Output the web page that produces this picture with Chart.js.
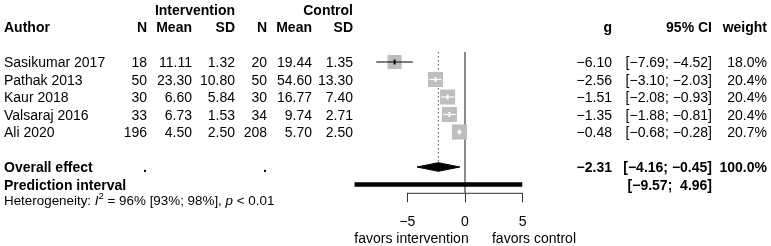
<!DOCTYPE html>
<html><head><meta charset="utf-8">
<script src="https://cdn.jsdelivr.net/npm/chart.js@4.4.1/dist/chart.umd.min.js"></script>
<style>
html,body{margin:0;padding:0;background:#fff;}
#wrap{position:relative;width:771px;height:246px;overflow:hidden;font-family:"Liberation Sans",Arial,Helvetica,sans-serif;color:#000;}
#c{position:absolute;left:0;top:0;}
.t{position:absolute;white-space:pre;font-size:14px;line-height:16px;height:16px;}
.b{font-weight:bold;}
.s{font-size:13.4px;}
sup{font-size:9.5px;line-height:0;position:relative;top:-1px;}
</style></head>
<body><div id="wrap"><canvas id="c" width="771" height="246"></canvas></div>
<script>
// ---- data ----
const authors   = ["Sasikumar 2017","Pathak 2013","Kaur 2018","Valsaraj 2016","Ali 2020"];
const nInt      = ["18","50","30","33","196"];
const meanInt   = ["11.11","23.30","6.60","6.73","4.50"];
const sdInt     = ["1.32","10.80","5.84","1.53","2.50"];
const nCtl      = ["20","50","30","34","208"];
const meanCtl   = ["19.44","54.60","16.77","9.74","5.70"];
const sdCtl     = ["1.35","13.30","7.40","2.71","2.50"];
const g         = [-6.10,-2.56,-1.51,-1.35,-0.48];
const ciLow     = [-7.69,-3.10,-2.08,-1.88,-0.68];
const ciHigh    = [-4.52,-2.03,-0.93,-0.81,-0.28];
const weight    = [18.0,20.4,20.4,20.4,20.7];
const overall   = {g:-2.31, lo:-4.16, hi:-0.45, weight:100.0};
const predInt   = {lo:-9.57, hi:4.96};
const hetero    = {i2:"96%", lo:"93%", hi:"98%", p:"< 0.01"};
const tickVals  = [-5,0,5];
const leftLabel = "favors intervention";
const rightLabel= "favors control";

// ---- geometry ----
const pxPerUnit = 11.54, zeroPx = 465;
const xMin = -10, xMax = 6;
const rowH = 17.5, row1 = 62;
const areaTop = 52, areaBottom = 193.3;
const yMin = 1 - (row1-areaTop)/rowH, yMax = 1 + (areaBottom-row1)/rowH;
const rowY = i => i+1;           // study rows 1..5
const overallRow = 7, predRow = 8;
const ypx = r => row1 + (r-1)*rowH;

const fmt = v => (v<0?"\u2212":"") + Math.abs(v).toFixed(2);
const fmtCI = (a,b) => "[" + fmt(a) + "; " + fmt(b) + "]";
const fmtCIpad = (a,b) => { const s1=fmt(a), s2=fmt(b); return "[" + s1 + "; " + " ".repeat(Math.max(0,s1.length-s2.length)) + s2 + "]"; };

// ---- text overlay ----
const wrap = document.getElementById('wrap');
function put(x,y,html,align,cls){
  const d=document.createElement('div');
  d.className='t '+(cls||'');
  d.innerHTML=html;
  d.style.top=(y-8)+'px';
  if(align==='right'){ d.style.right=(771-x)+'px'; d.style.textAlign='right'; }
  else if(align==='center'){ d.style.left=(x-150)+'px'; d.style.width='300px'; d.style.textAlign='center'; }
  else { d.style.left=x+'px'; }
  wrap.appendChild(d);
}
const colX = {author:4,nI:147,mI:192,sI:235,nC:267,mC:312,sC:353,g:612,ci:712,w:767};
put(colX.sI,10,"Intervention","right","b");
put(colX.sC,10,"Control","right","b");
put(colX.author,27,"Author","left","b");
put(colX.nI,27,"N","right","b"); put(colX.mI,27,"Mean","right","b"); put(colX.sI,27,"SD","right","b");
put(colX.nC,27,"N","right","b"); put(colX.mC,27,"Mean","right","b"); put(colX.sC,27,"SD","right","b");
put(colX.g,27,"g","right","b"); put(colX.ci,27,"95% CI","right","b"); put(colX.w,27,"weight","right","b");
authors.forEach((a,i)=>{
  const y=ypx(rowY(i));
  put(colX.author,y,a,"left");
  put(colX.nI,y,nInt[i],"right"); put(colX.mI,y,meanInt[i],"right"); put(colX.sI,y,sdInt[i],"right");
  put(colX.nC,y,nCtl[i],"right"); put(colX.mC,y,meanCtl[i],"right"); put(colX.sC,y,sdCtl[i],"right");
  put(colX.g,y,fmt(g[i]),"right"); put(colX.ci,y,fmtCI(ciLow[i],ciHigh[i]),"right");
  put(colX.w,y,weight[i].toFixed(1)+"%","right");
});
const yo=ypx(overallRow), yp=ypx(predRow);
put(colX.author,yo,"Overall effect","left","b");
put(colX.nI,yo,".","right","b"); put(colX.nC,yo,".","right","b");
put(colX.g,yo,fmt(overall.g),"right","b"); put(colX.ci,yo,fmtCI(overall.lo,overall.hi),"right","b");
put(colX.w,yo,overall.weight.toFixed(1)+"%","right","b");
put(colX.author,yp,"Prediction interval","left","b");
put(colX.ci,yp,fmtCIpad(predInt.lo,predInt.hi),"right","b");
put(colX.author,201,"Heterogeneity: <i>I</i><sup>2</sup> = "+hetero.i2+" ["+hetero.lo+"; "+hetero.hi+"], <i>p</i> "+hetero.p.replace("<","&lt;"),"left","s");
put(411.5,238,leftLabel,"center");
put(534,238,rightLabel,"center");

// ---- datasets ----
const sqRadius = w => 10*Math.sqrt(w/18);
const ds = [];
// CI lines + estimate ticks (on top)
g.forEach((v,i)=>{
  const half = (Math.SQRT2*sqRadius(weight[i])/2)/pxPerUnit;
  const inside = ciLow[i] > v-half && ciHigh[i] < v+half;
  const col = inside ? '#ffffff' : '#000000';
  ds.push({type:'line',data:[{x:ciLow[i],y:rowY(i)},{x:ciHigh[i],y:rowY(i)}],borderColor:col,borderWidth:1.2,pointRadius:0,order:0});
  ds.push({type:'scatter',data:[{x:v,y:rowY(i)}],pointStyle:'line',rotation:90,pointRadius:2.5,borderColor:col,borderWidth:2,order:0});
});
// squares
ds.push({type:'scatter',data:g.map((v,i)=>({x:v,y:rowY(i)})),pointStyle:'rect',
  pointRadius:weight.map(sqRadius),backgroundColor:'#bebebe',borderColor:'#bebebe',borderWidth:0,order:5});
// zero line
ds.push({type:'line',data:[{x:0,y:yMin},{x:0,y:yMax}],borderColor:'#7a7a7a',borderWidth:1,pointRadius:0,order:8});
// overall dotted line
ds.push({type:'line',data:[{x:overall.g,y:yMin},{x:overall.g,y:overallRow-0.3}],borderColor:'#555',borderWidth:1,borderDash:[1.5,2.5],pointRadius:0,order:8});
// diamond
const dh=0.246;
ds.push({type:'line',data:[{x:overall.lo,y:overallRow},{x:overall.g,y:overallRow-dh},{x:overall.hi,y:overallRow}],borderColor:'#000',backgroundColor:'#000',borderWidth:1,pointRadius:0,fill:'+1',order:3});
ds.push({type:'line',data:[{x:overall.lo,y:overallRow},{x:overall.g,y:overallRow+dh},{x:overall.hi,y:overallRow}],borderColor:'#000',borderWidth:1,pointRadius:0,fill:false,order:3});
// prediction interval
ds.push({type:'line',data:[{x:predInt.lo,y:predRow},{x:predInt.hi,y:predRow}],borderColor:'#000',borderWidth:4.4,borderCapStyle:'butt',pointRadius:0,order:3});
// x axis line (-5..5)
ds.push({type:'line',data:[{x:tickVals[0],y:yMax},{x:tickVals[tickVals.length-1],y:yMax}],borderColor:'#333',borderWidth:1,pointRadius:0,order:8});
ds.forEach(d=>{d.clip=false;});

new Chart(document.getElementById('c'),{
  type:'scatter',
  data:{datasets:ds},
  options:{
    responsive:false, animation:false,
    layout:{padding:{left:zeroPx+xMin*pxPerUnit,right:771-(zeroPx+xMax*pxPerUnit),top:areaTop,bottom:0}},
    plugins:{legend:{display:false},tooltip:{enabled:false}},
    elements:{line:{tension:0}},
    scales:{
      x:{type:'linear',min:xMin,max:xMax,
        afterBuildTicks:ax=>{ax.ticks=tickVals.map(v=>({value:v}));},
        afterFit:ax=>{ax.height=246-areaBottom;},
        grid:{drawOnChartArea:false,drawTicks:true,tickLength:9,color:'#333',lineWidth:1},
        border:{display:false},
        ticks:{padding:11,color:'#000',font:{family:'"Liberation Sans", Arial, sans-serif',size:14},
          callback:v=>(v<0?'\u2212':'')+Math.abs(v)}},
      y:{type:'linear',display:false,reverse:true,min:yMin,max:yMax}
    }
  }
});
</script>
</body></html>
